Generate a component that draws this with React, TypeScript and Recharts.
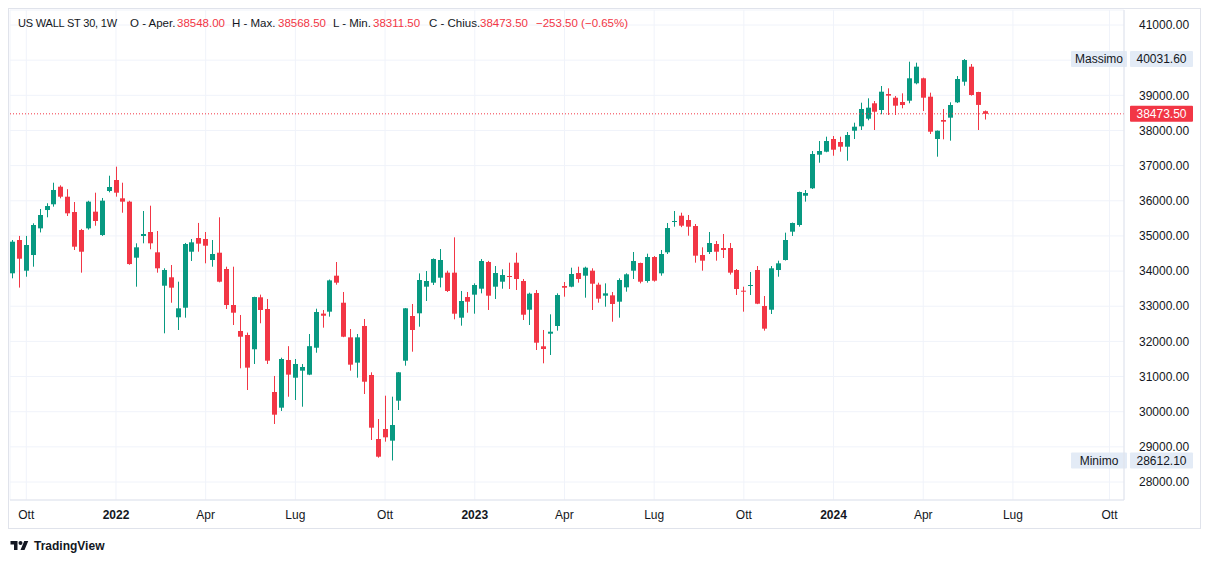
import React from "react";
import {
  ComposedChart,
  Bar,
  XAxis,
  YAxis,
  CartesianGrid,
  ReferenceLine,
} from "recharts";

// weekly candles, first bar = week of 20 Sep 2021
const firstWeek = "2021-09-20";

const opens = [
  33937, 34884, 34011, 34457, 35216, 35737, 35900, 36400, 36116, 35680,
  35168, 35216, 35690, 35026, 36278, 36591, 36070, 35975, 34381, 34998,
  35112, 34534, 33584, 33823, 32686, 32958, 34551, 34941, 34913, 34315,
  34523, 34059, 33035, 32296, 32182, 31776, 33254, 32921, 30560, 30114,
  31471, 30967, 31167, 31054, 31820, 32790, 32845, 33869, 33100, 32115,
  31395, 32438, 31044, 29223, 29508, 29176, 30313, 31451, 32722, 32799,
  33556, 33670, 33812, 33955, 33955, 32674, 33262, 33329, 33499, 34258,
  33556, 33698, 33860, 34239, 33718, 32901, 33376, 31860, 32219, 32438,
  33575, 33556, 33945, 33869, 34011, 33613, 33300, 33310, 33129, 33538,
  34011, 34230, 33718, 34400, 33936, 34534, 35405, 35575, 35453, 35282,
  34457, 34543, 34770, 34656, 34656, 34031, 33442, 33576, 34031, 33007,
  32901, 34031, 34315, 35121, 35311, 36144, 36355, 37311, 37396, 37757,
  37672, 37538, 37993, 38118, 38335, 38773, 38582, 39037, 38932, 38810,
  38847, 39342, 39484, 38961, 37757, 38298, 38364, 38801, 39387, 39814,
  39094, 38548,
];
const highs = [
  34884, 35000, 35000, 35359, 35766, 35930, 36514, 36440, 36330, 35965,
  35200, 36000, 36230, 36080, 36713, 36970, 36514, 36000, 34790, 35709,
  35860, 35140, 34080, 34173, 33698, 34800, 34913, 35370, 35112, 34884,
  35530, 34125, 34125, 32751, 32250, 33270, 33330, 33206, 31016, 31536,
  31864, 31499, 31357, 32210, 32930, 32893, 33760, 34258, 33405, 32352,
  32210, 32637, 31120, 29792, 30455, 30427, 31130, 32950, 33064, 33935,
  34002, 34360, 34628, 34011, 34960, 33434, 33405, 33651, 34344, 34290,
  34144, 34050, 34239, 34523, 33775, 33385, 33462, 32324, 32770, 33367,
  33689, 34097, 34125, 34125, 34079, 33670, 33651, 33405, 33794, 33936,
  34543, 34240, 34495, 34429, 34600, 35368, 35709, 35661, 35595, 35339,
  34676, 35112, 34856, 35055, 34799, 34059, 33556, 33974, 34144, 33291,
  34144, 34296, 35093, 35380, 36260, 36306, 37416, 37700, 37823, 37842,
  37823, 37956, 38221, 38790, 38915, 38838, 39265, 39199, 38980, 39057,
  39956, 39928, 39502, 39075, 38000, 38611, 38801, 39549, 40031.6, 39890,
  39100, 38568.5,
];
const lows = [
  33794, 33530, 33840, 34125, 35100, 35530, 35832, 36070, 35567, 34600,
  33955, 35180, 35290, 35000, 36240, 36117, 35660, 34180, 33556, 34790,
  34620, 33955, 32230, 33100, 32324, 32674, 34287, 34551, 34221, 34125,
  33680, 32921, 32466, 31234, 30617, 31357, 32515, 31357, 29650, 30020,
  30426, 30333, 30142, 31040, 31678, 32390, 32703, 33613, 32120, 31167,
  30967, 30503, 29195, 28692, 29147, 28612.1, 30048, 31309, 31707, 32418,
  33149, 33604, 33537, 33405, 32628, 32447, 32816, 32788, 33367, 32893,
  33206, 33499, 33490, 33462, 32608, 32466, 31755, 31376, 31613, 32305,
  33271, 33540, 33670, 33243, 32893, 33101, 32987, 32560, 32674, 33414,
  33775, 33651, 33670, 33700, 33869, 34486, 35263, 35250, 35007, 34239,
  34011, 34486, 34296, 34372, 33900, 33320, 32845, 33320, 33060, 32305,
  32779, 33840, 34300, 34998, 35263, 35975, 36335, 37083, 37380, 37282,
  37396, 37140, 37757, 38013, 38289, 38013, 38460, 38440, 38440, 38630,
  38773, 39313, 38554, 37899, 37254, 37748, 37709, 38780, 39273, 38990,
  38013, 38311.5,
];
const closes = [
  34836, 34352, 34742, 35311, 35595, 35851, 36307, 36116, 35643, 34694,
  34551, 35975, 35425, 36003, 36392, 36230, 35975, 34200, 34676, 35055,
  34790, 34079, 34031, 33528, 32941, 34770, 34818, 34780, 34722, 34486,
  33698, 33035, 32816, 32133, 31253, 33262, 32893, 31451, 29915, 31499,
  31054, 31357, 31272, 31864, 32836, 32730, 33735, 33670, 32133, 31338,
  32115, 30853, 29545, 28720, 29271, 29621, 31120, 32941, 32324, 33746,
  33718, 34344, 34315, 33434, 32788, 33149, 33129, 33604, 34287, 33300,
  33945, 33888, 33832, 33775, 32759, 33357, 31963, 31783, 32276, 33319,
  33527, 33917, 33775, 34097, 33641, 33215, 33367, 33064, 33746, 33908,
  34287, 33698, 34400, 33727, 34486, 35225, 35425, 35291, 35263, 34438,
  34296, 34799, 34551, 34600, 33955, 33490, 33414, 33604, 33072, 32362,
  34079, 34221, 34884, 35368, 36250, 36221, 37330, 37416, 37700, 37453,
  37538, 37871, 38107, 38611, 38648, 38534, 39103, 38990, 38705, 38724,
  39484, 39815, 38932, 37965, 37993, 38250, 38724, 39464, 40004, 39009,
  38727, 38473.5,
];

const tickDates = [
  "2021-10-04", "2022-01-03", "2022-04-04", "2022-07-04", "2022-10-03",
  "2023-01-02", "2023-04-03", "2023-07-03", "2023-10-02", "2024-01-01",
  "2024-04-01", "2024-07-01", "2024-10-07",
];
const tickLabels = [
  "Ott", "2022", "Apr", "Lug", "Ott", "2023", "Apr", "Lug", "Ott", "2024",
  "Apr", "Lug", "Ott",
];
const priceTicks = [
  28000, 29000, 30000, 31000, 32000, 33000, 34000, 35000, 36000, 37000,
  38000, 39000, 40000, 41000,
];

const GREEN = "#089981";
const RED = "#f23645";
const TEXT = "#131722";
const FONT = "'Liberation Sans', Arial, sans-serif";

const weekIdx = (d: string) =>
  Math.round((Date.parse(d) - Date.parse(firstWeek)) / (7 * 86400000));

const data = opens.map((o, i) => ({
  t: i,
  open: o,
  high: highs[i],
  low: lows[i],
  close: closes[i],
  range: [lows[i], highs[i]],
}));

const tickIdx = tickDates.map(weekIdx);
const labelAt: Record<number, string> = {};
tickIdx.forEach((t, i) => (labelAt[t] = tickLabels[i]));

const n = closes.length;
const last = closes[n - 1];
const change = last - closes[n - 2];
const pct = (change / closes[n - 2]) * 100;
const maxHigh = Math.max(...highs);
const minLow = Math.min(...lows);
const fmt = (v: number) => v.toFixed(2);
const signed = (v: number) => (v < 0 ? "\u2212" + fmt(-v) : "+" + fmt(v));

// axis labels hidden when a price box sits on top of them
const boxed = [maxHigh, minLow, last];
const axisLabel = (v: number) =>
  boxed.some((b) => Math.abs(b - v) < 350) ? "" : fmt(v);

const Candle = (props: any) => {
  const { x, y, width, height, payload } = props;
  const { open, close, high, low } = payload;
  const color = close >= open ? GREEN : RED;
  const k = high === low ? 0 : height / (high - low);
  const top = y + (high - Math.max(open, close)) * k;
  const bot = y + (high - Math.min(open, close)) * k;
  const rx = Math.round(x);
  const cx = rx + width / 2;
  return (
    <g>
      <line x1={cx} x2={cx} y1={y} y2={y + height} stroke={color} strokeWidth={1} />
      <rect x={rx} y={top} width={width} height={Math.max(1, bot - top)} fill={color} />
    </g>
  );
};

const TimeTick = (props: any) => {
  const { x, y, payload } = props;
  const label = labelAt[payload.value];
  const bold = /^\d{4}$/.test(label);
  return (
    <text
      x={x}
      y={y}
      dy="0.71em"
      textAnchor="middle"
      fill={TEXT}
      fontSize={12}
      fontFamily={FONT}
      fontWeight={bold ? 700 : 400}
    >
      {label}
    </text>
  );
};

const PriceBox = (props: any) => {
  const { viewBox, value, fill, color, tag } = props;
  const x0 = viewBox.x + viewBox.width + 6;
  const cy = viewBox.y;
  return (
    <g fontFamily={FONT} fontSize={12}>
      {tag && (
        <>
          <rect x={x0 - 59} y={cy - 8} width={56} height={16} fill={fill} rx={1} />
          <text x={x0 - 31} y={cy} dy="0.35em" textAnchor="middle" fill={color}>
            {tag}
          </text>
        </>
      )}
      <rect x={x0} y={cy - 8} width={63} height={16} fill={fill} rx={1} />
      <text x={x0 + 31.5} y={cy} dy="0.35em" textAnchor="middle" fill={color}>
        {fmt(value)}
      </text>
    </g>
  );
};

const Logo = () => (
  <div
    style={{
      position: "absolute",
      left: 2,
      top: 531,
      display: "flex",
      alignItems: "center",
      gap: 5,
      fontFamily: FONT,
      fontSize: 12,
      fontWeight: 700,
      color: TEXT,
    }}
  >
    <svg width={19} height={14} viewBox="0 0 36 28">
      <path d="M14 22H7V11H0V4h14v18zM28 22h-8l7.5-18h8L28 22z" fill={TEXT} />
      <circle cx={20} cy={8} r={4} fill={TEXT} />
    </svg>
    <span>TradingView</span>
  </div>
);

const legend: [number, string, string][] = [
  [10, "US WALL ST 30, 1W", TEXT],
  [122, "O - Aper.", TEXT],
  [169, fmt(opens[n - 1]), RED],
  [224, "H - Max.", TEXT],
  [270, fmt(highs[n - 1]), RED],
  [325, "L - Min.", TEXT],
  [365, fmt(lows[n - 1]), RED],
  [421, "C - Chius.", TEXT],
  [472, fmt(last), RED],
  [528, `${signed(change)} (${signed(pct)}%)`, RED],
];

const App = () => {
  return (
    <div style={{ position: "relative", width: 1193, height: 556 }}>
      <ComposedChart
        width={1193}
        height={522}
        data={data}
        margin={{ top: 2, right: 0, left: 2, bottom: 0 }}
      >
        <CartesianGrid stroke="#f0f3fa" />
        <XAxis
          dataKey="t"
          type="number"
          domain={[-0.36, 161.1]}
          allowDataOverflow
          ticks={tickIdx}
          interval={0}
          tick={<TimeTick />}
          tickLine={false}
          tickSize={0}
          tickMargin={10}
          height={30}
          axisLine={{ stroke: "#e0e3eb" }}
        />
        <YAxis
          orientation="right"
          type="number"
          domain={[27488, 41427]}
          allowDataOverflow
          ticks={priceTicks}
          interval={0}
          tickFormatter={axisLabel}
          tick={{ fill: TEXT, fontSize: 12, fontFamily: FONT }}
          tickLine={false}
          tickSize={0}
          tickMargin={15}
          width={77}
          axisLine={{ stroke: "#e0e3eb" }}
        />
        <Bar
          dataKey="range"
          barSize={5}
          shape={<Candle />}
          isAnimationActive={false}
        />
        <ReferenceLine
          y={maxHigh}
          stroke="none"
          label={<PriceBox value={maxHigh} tag="Massimo" fill="#e3ebf6" color={TEXT} />}
        />
        <ReferenceLine
          y={minLow}
          stroke="none"
          label={<PriceBox value={minLow} tag="Minimo" fill="#e3ebf6" color={TEXT} />}
        />
        <ReferenceLine
          y={last}
          stroke={RED}
          strokeDasharray="1 2"
          label={<PriceBox value={last} fill={RED} color="#ffffff" />}
        />
      </ComposedChart>
      <div
        style={{
          position: "absolute",
          left: 0,
          top: 0,
          width: 1193,
          height: 521,
          border: "1px solid #e0e3eb",
          boxSizing: "border-box",
          pointerEvents: "none",
        }}
      />
      {legend.map(([left, text, color], i) => (
        <span
          key={i}
          style={{
            position: "absolute",
            left,
            top: 9,
            fontFamily: FONT,
            fontSize: i === 0 ? 11 : 11.5,
            letterSpacing: i === 0 ? -0.2 : 0,
            color,
            whiteSpace: "nowrap",
          }}
        >
          {text}
        </span>
      ))}
      <Logo />
    </div>
  );
};

export default App;
